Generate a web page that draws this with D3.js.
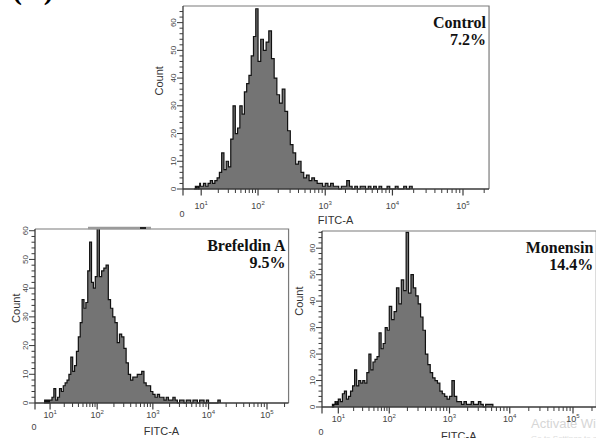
<!DOCTYPE html>
<html>
<head>
<meta charset="utf-8">
<script src="https://cdn.jsdelivr.net/npm/d3@7"></script>
<style>
body{margin:0;background:#fff;}
svg{display:block;}
</style>
</head>
<body>
<div id="chart"></div>
<script>
"use strict";

// =============== DATA ===============
// one count per bin, bins are binWidth decades wide starting at binStart (log10 FITC-A)
var binStart = 0.6,
	binWidth = 0.04;

var controlCounts = [
	0,0,1,0,1,1,0,1,2,1,
	1,2,1,2,3,2,3,4,6,13,7,10,8,18,30,20,22,30,27,35,38,41,48,55,65,
	46,54,50,53,57,47,40,34,31,36,28,21,16,13,9,10,6,4,5,3,4,3,2,2,1,
	2,1,2,1,1,0,1,1,3,1,0,1,0,1,1,0,1,0,1,0,1,0,0,1,0,0,1,0,0,1,0,1
];
var brefeldinCounts = [
	0,1,0,1,1,0,1,1,0,1,
	1,2,5,1,2,5,4,6,7,8,10,16,11,13,18,23,28,36,33,35,46,56,42,40,44,
	61,44,46,47,48,36,33,30,28,21,24,23,19,14,10,8,9,9,10,10,11,7,6,6,4,
	3,2,3,2,2,1,2,1,1,2,1,0,1,1,0,1,1,0,1,1,0,1,1,0,1,0,0,0,0,1
];
var monensinCounts = [
	0,1,0,1,1,2,1,1,2,1,
	3,2,5,6,3,4,6,8,14,8,10,9,10,9,13,20,14,17,18,19,28,22,24,30,29,
	38,33,36,45,39,48,44,66,43,50,45,42,39,34,29,20,16,13,11,10,9,6,5,4,3,
	4,10,4,2,2,1,2,1,1,2,1,1,2,1,0,1,1,1
];

var sampleNames = ["Control", "Brefeldin A", "Monensin"];
var samplePercents = ["7.2%", "9.5%", "14.4%"];

var decadeTicks = [1, 2, 3, 4, 5];          // labelled 10^1 .. 10^5
var minorMultipliers = [2, 3, 4, 5, 6, 7, 8, 9];
var countTicks = [0, 10, 20, 30, 40, 50, 60];
var xTitle = "FITC-A",
	yTitle = "Count",
	figureLetter = "(A)";

// =============== DISPLAY ===============
// biexponential-like axis: 0 and the first decade are squeezed
var decadeStops = [0, 1, 2, 3, 4, 5, 5.37],
	decadeFrac = [0, 0.065, 0.268, 0.508, 0.748, 1, 1.093];

var sansFont = "'Liberation Sans', Arial, sans-serif",
	serifFont = "'Liberation Serif', 'Times New Roman', serif",
	axisColor = "#3a3a3a",
	fillColor = "#747474";

var panels = [
	{counts: controlCounts, name: sampleNames[0], pct: samplePercents[0],
		left: 183, span: 280, top: 6, base: 189, yMax: 66,
		labelGap: 20, zeroGap: 28, titleGap: 35, countGap: 20, countAt: 39},
	{counts: brefeldinCounts, name: sampleNames[1], pct: samplePercents[1],
		left: 35, span: 232, top: 229, base: 403, yMax: 60.6,
		labelGap: 15, zeroGap: 27, titleGap: 32, countGap: 15, countAt: 33},
	{counts: monensinCounts, name: sampleNames[2], pct: samplePercents[2],
		left: 322, span: 251, top: 231, base: 407, yMax: 66.5,
		labelGap: 15, zeroGap: 28, titleGap: 33, countGap: 19, countAt: 40}
];

var svg = d3.select("#chart").append("svg")
	.attr("width", 596)
	.attr("height", 438)
	.style("background", "#fff");

// figure letter, mostly cut off by the top edge
svg.append("text")
	.attr("x", 12).attr("y", -1)
	.style("font-family", serifFont)
	.style("font-weight", "bold")
	.style("font-size", "30px")
	.text(figureLetter);

// screenshot watermark (drawn first so the axis labels sit on top)
svg.append("text")
	.attr("x", 531).attr("y", 428)
	.style("font-family", sansFont).style("font-size", "13px")
	.attr("fill", "#d6d6d6")
	.text("Activate Windows");
svg.append("text")
	.attr("x", 531).attr("y", 441)
	.style("font-family", sansFont).style("font-size", "8px")
	.attr("fill", "#dcdcdc")
	.text("Go to Settings to activate Windows.");

panels.forEach(function(p){ drawPanel(svg, p); });

// scan artifact on top of the Brefeldin frame
svg.append("line")
	.attr("x1", 88).attr("x2", 151).attr("y1", 228).attr("y2", 228)
	.attr("stroke", "#9a9a9a").attr("stroke-width", 2.5);
svg.append("line")
	.attr("x1", 140).attr("x2", 146).attr("y1", 228).attr("y2", 228)
	.attr("stroke", "#222").attr("stroke-width", 2);

// =============== PANEL ===============
function drawPanel(svg, p){
	var range = decadeFrac.map(function(f){ return p.left + f*p.span; });
	var x = d3.scaleLinear().domain(decadeStops).range(range);
	var y = d3.scaleLinear().domain([0, p.yMax]).range([p.base, p.top]);
	var right = range[range.length-1];
	var g = svg.append("g");

	// histogram
	var bins = p.counts.map(function(c, i){
		return {d: binStart + i*binWidth, c: c};
	});
	bins.push({d: binStart + p.counts.length*binWidth, c: 0});

	var area = d3.area()
		.curve(d3.curveStepAfter)
		.x(function(d){ return x(d.d); })
		.y0(y(0))
		.y1(function(d){ return y(d.c); });
	var line = d3.line()
		.curve(d3.curveStepAfter)
		.x(function(d){ return x(d.d); })
		.y(function(d){ return y(d.c); });

	g.append("path").datum(bins)
		.attr("d", area)
		.attr("fill", fillColor);
	g.append("path").datum(bins)
		.attr("d", line)
		.attr("fill", "none")
		.attr("stroke", "#111")
		.attr("stroke-width", 1.2);

	// frame (top + right)
	g.append("path")
		.attr("d", "M" + x(0) + "," + y(p.yMax) + "H" + right + "V" + y(0))
		.attr("fill", "none")
		.attr("stroke", "#7a7a7a")
		.attr("stroke-width", 1.2);

	// y axis
	g.append("line")
		.attr("x1", x(0)).attr("x2", x(0))
		.attr("y1", y(0)).attr("y2", y(p.yMax))
		.attr("stroke", axisColor).attr("stroke-width", 1.3);
	g.selectAll(".yminor").data(d3.range(0, p.yMax, 2))
		.join("line")
		.attr("x1", x(0)).attr("x2", function(d){ return x(0) - (d % 10 == 0 ? 6 : 3.5); })
		.attr("y1", function(d){ return y(d); })
		.attr("y2", function(d){ return y(d); })
		.attr("stroke", axisColor).attr("stroke-width", 1);
	g.selectAll(".ylab").data(countTicks)
		.join("text")
		.attr("transform", function(d){
			return "translate(" + (x(0) - 7) + "," + y(d) + ") rotate(-90)";
		})
		.attr("text-anchor", "middle")
		.style("font-family", sansFont)
		.style("font-size", "8px")
		.attr("fill", "#444")
		.text(function(d){ return d; });
	g.append("text")
		.attr("transform", "translate(" + (x(0) - p.countGap) + "," + y(p.countAt) + ") rotate(-90)")
		.attr("text-anchor", "middle")
		.style("font-family", sansFont)
		.style("font-size", "11px")
		.attr("fill", "#333")
		.text(yTitle);

	// x axis
	g.append("line")
		.attr("x1", x(0)).attr("x2", right)
		.attr("y1", y(0)).attr("y2", y(0))
		.attr("stroke", axisColor).attr("stroke-width", 1.3);

	var minorTicks = [];
	[1, 2, 3, 4, 5].forEach(function(dec){
		minorMultipliers.forEach(function(m){
			var v = dec + Math.log10(m);
			if(v < decadeStops[decadeStops.length-1]) minorTicks.push(v);
		});
	});
	g.selectAll(".xminor").data(minorTicks)
		.join("line")
		.attr("x1", function(d){ return x(d); })
		.attr("x2", function(d){ return x(d); })
		.attr("y1", y(0)).attr("y2", y(0) + 4)
		.attr("stroke", axisColor).attr("stroke-width", 1);
	g.selectAll(".xmajor").data([0].concat(decadeTicks))
		.join("line")
		.attr("x1", function(d){ return x(d); })
		.attr("x2", function(d){ return x(d); })
		.attr("y1", y(0)).attr("y2", y(0) + 6.5)
		.attr("stroke", axisColor).attr("stroke-width", 1.2);

	g.selectAll(".xlab").data(decadeTicks)
		.join("text")
		.attr("x", function(d){ return x(d); })
		.attr("y", y(0) + p.labelGap)
		.attr("text-anchor", "middle")
		.style("font-family", sansFont)
		.style("font-size", "9px")
		.attr("fill", "#444")
		.each(function(d){
			var t = d3.select(this);
			t.append("tspan").text("10");
			t.append("tspan").attr("dy", -4).style("font-size", "6px").text(d);
		});
	g.append("text")
		.attr("x", x(0) - 1)
		.attr("y", y(0) + p.zeroGap)
		.attr("text-anchor", "middle")
		.style("font-family", sansFont)
		.style("font-size", "9px")
		.attr("fill", "#444")
		.text("0");
	g.append("text")
		.attr("x", p.left + 0.545*p.span)
		.attr("y", y(0) + p.titleGap)
		.attr("text-anchor", "middle")
		.style("font-family", sansFont)
		.style("font-size", "11px")
		.attr("fill", "#333")
		.text(xTitle);

	// sample name and percent
	g.append("text")
		.attr("x", right - 3)
		.attr("y", p.top + 21.5)
		.attr("text-anchor", "end")
		.style("font-family", serifFont)
		.style("font-weight", "bold")
		.style("font-size", "16px")
		.attr("fill", "#111")
		.text(p.name);
	g.append("text")
		.attr("x", right - 3)
		.attr("y", p.top + 38.5)
		.attr("text-anchor", "end")
		.style("font-family", serifFont)
		.style("font-weight", "bold")
		.style("font-size", "16px")
		.attr("fill", "#111")
		.text(p.pct);
}
</script>
</body>
</html>
